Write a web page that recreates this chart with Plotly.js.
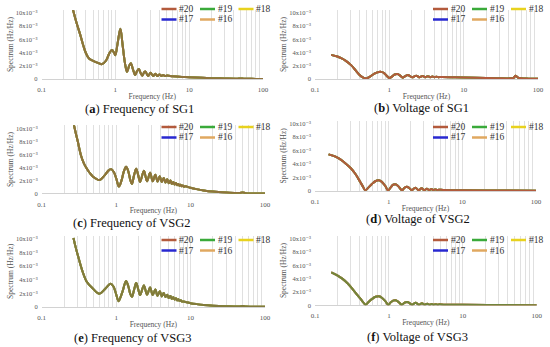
<!DOCTYPE html>
<html>
<head>
<meta charset="utf-8">
<script src="https://cdn.plot.ly/plotly-3.0.1.min.js"></script>
<style>html,body{margin:0;padding:0;background:#fff;}#chart{width:550px;height:347px;}</style>
</head>
<body>
<div id="chart"></div>
<script>
// ---- DATA (spectrum values in units of 10^-3 Hz/Hz) ----
const seriesNames = ['#20', '#19', '#18', '#17', '#16'];
const panelLetters = ['a', 'b', 'c', 'd', 'e', 'f'];
const panelTitles = ['Frequency of SG1', 'Voltage of SG1', 'Frequency of VSG2', 'Voltage of VSG2', 'Frequency of VSG3', 'Voltage of VSG3'];
const xTickVals = [0.1, 1, 10, 100];
const xTickText = ['0.1', '1', '10', '100'];
const xMinorVals = [0.2,0.3,0.4,0.5,0.6,0.7,0.8,0.9,2,3,4,5,6,7,8,9,20,30,40,50,60,70,80,90];
const yTickVals = [0, 2, 4, 6, 8, 10];
const yTickText = ['0', '2x10⁻³', '4x10⁻³', '6x10⁻³', '8x10⁻³', '10x10⁻³'];

const freqA = [0.25,0.268,0.3,0.337,0.37,0.4,0.44,0.5,0.58,0.66,0.75,0.83,0.9,0.96,1.0,1.07,1.17,1.25,1.35,1.44,1.53,1.62,1.74,1.86,1.97,2.08,2.2,2.32,2.45,2.55,2.78,3.0,3.25,3.48,3.72,3.96,4.2,4.45,4.7,5.0,6.0,8.0,10,15,20,30,45,50,55,70,100];
const specA = [11.8,10.4,8.4,6.6,5.0,3.9,3.1,2.75,2.45,2.25,2.8,3.9,4.4,4.0,3.6,5.3,7.6,5.3,2.4,1.1,1.9,2.4,1.4,0.6,1.2,1.5,0.9,0.5,1.0,1.15,0.45,0.95,0.45,0.8,0.45,0.7,0.45,0.6,0.45,0.52,0.42,0.32,0.26,0.18,0.13,0.08,0.05,0.09,0.04,0.02,0.01];

const freqB = [0.165,0.2,0.225,0.26,0.306,0.35,0.395,0.44,0.49,0.55,0.63,0.72,0.78,0.85,0.92,1.0,1.08,1.18,1.29,1.4,1.52,1.64,1.78,1.92,2.04,2.17,2.3,2.43,2.55,2.8,3.05,3.3,3.55,3.8,4.05,4.3,4.55,5,7,10,20,30,42,47,50,53,60,75,100];
const specB = [3.65,3.4,3.15,2.75,2.1,1.35,0.65,0.25,0.08,0.35,0.8,1.05,1.08,0.9,0.5,0.15,0.35,0.68,0.75,0.5,0.2,0.45,0.6,0.4,0.25,0.4,0.5,0.38,0.27,0.45,0.28,0.42,0.28,0.38,0.28,0.35,0.28,0.3,0.27,0.22,0.15,0.11,0.1,0.18,0.5,0.25,0.1,0.05,0.02];

const freqC = [0.267,0.285,0.305,0.338,0.37,0.395,0.44,0.49,0.6,0.7,0.8,0.86,0.93,1.0,1.09,1.18,1.27,1.36,1.45,1.55,1.63,1.74,1.86,1.98,2.1,2.36,2.6,2.86,3.1,3.36,3.6,3.86,4.1,4.36,4.6,4.86,5.1,5.36,5.6,5.86,6.1,6.36,6.6,6.86,7.1,7.36,7.6,7.86,8.1,8.5,10,12,15,20,30,45,50,55,70,100];
const specC = [10.8,9.4,8.0,5.8,4.6,4.0,3.2,2.6,2.1,2.8,3.6,3.75,3.3,2.4,1.1,2.0,3.4,4.1,3.5,2.1,1.5,2.8,3.8,2.8,1.8,3.5,1.9,3.2,1.9,2.9,1.85,2.65,1.8,2.4,1.7,2.2,1.6,2.0,1.5,1.8,1.4,1.65,1.3,1.5,1.22,1.38,1.15,1.25,1.08,1.12,0.9,0.7,0.5,0.32,0.18,0.1,0.18,0.08,0.04,0.02];

const freqD = [0.153,0.19,0.221,0.26,0.302,0.35,0.392,0.44,0.482,0.53,0.594,0.66,0.732,0.8,0.9,0.98,1.06,1.14,1.23,1.34,1.52,1.64,1.77,1.9,2.06,2.3,2.55,2.8,3.05,3.3,3.55,3.8,4.05,4.3,4.55,4.8,5.5,10,30,100];
const specD = [5.45,5.1,4.7,4.1,3.45,2.6,1.73,0.8,0.12,0.5,1.05,1.45,1.58,1.4,0.74,0.1,0.5,0.9,1.0,0.75,0.12,0.48,0.64,0.45,0.13,0.5,0.13,0.4,0.13,0.33,0.14,0.28,0.14,0.24,0.15,0.2,0.16,0.12,0.08,0.04];

const freqE = [0.267,0.285,0.305,0.349,0.403,0.486,0.597,0.72,0.84,0.92,0.98,1.08,1.16,1.23,1.36,1.46,1.54,1.63,1.75,1.86,1.98,2.1,2.36,2.6,2.86,3.1,3.36,3.6,3.86,4.1,4.36,4.6,4.86,5.1,5.36,5.6,5.86,6.1,6.36,6.6,6.86,7.1,7.36,7.6,8,10,12,15,20,30,45,50,55,70,100];
const specE = [10.1,8.8,7.6,5.4,3.7,2.7,1.95,2.7,3.4,3.0,2.2,0.85,1.6,2.4,3.8,3.0,2.0,1.5,2.6,3.5,2.6,1.75,3.15,1.8,2.85,1.75,2.55,1.65,2.3,1.55,2.05,1.45,1.8,1.32,1.6,1.2,1.42,1.08,1.27,0.98,1.13,0.9,1.0,0.82,0.8,0.55,0.42,0.3,0.2,0.12,0.08,0.16,0.06,0.04,0.02];

const freqF = [0.166,0.2,0.234,0.275,0.319,0.37,0.414,0.45,0.484,0.53,0.6,0.66,0.735,0.81,0.9,0.98,1.06,1.14,1.23,1.35,1.5,1.63,1.77,1.92,2.06,2.3,2.55,2.8,3.05,3.3,3.55,3.8,4.05,4.3,4.55,4.8,5.5,10,30,100];
const specF = [4.95,4.5,4.0,3.3,2.5,1.6,0.95,0.45,0.08,0.5,1.0,1.28,1.35,1.1,0.6,0.05,0.45,0.7,0.75,0.5,0.08,0.4,0.5,0.3,0.08,0.38,0.08,0.3,0.08,0.25,0.08,0.2,0.08,0.17,0.08,0.14,0.1,0.07,0.04,0.02];

const panelFreq = [freqA, freqB, freqC, freqD, freqE, freqF];
const panelSpec = [specA, specB, specC, specD, specE, specF];

// ---- STYLE / LAYOUT ----
const seriesColors = ['#b35a3c', '#3aaa3a', '#e8d21e', '#2828d0', '#e0a860'];
const W = 550, H = 347;
// px boxes: x of 0.1, x of 100, y of range top, y of zero
const boxes = [
  [41.5, 263, 10, 79],
  [315, 538, 10, 79],
  [41.7, 265, 125.3, 193.7],
  [315, 536, 120.7, 191],
  [41.7, 265, 235.6, 307],
  [315, 536.7, 235.7, 305.3]
];
const yTop = 10.45;
const captionPos = [[140, 109], [421.7, 108], [131, 222.7], [418, 219.3], [132, 338], [417, 337]];
const legendRows = [[9, 19.5], [9, 19.5], [127, 137.5], [127, 137.5], [240, 250.5], [240, 250.5]];
// draw order (indices into series) and opacity of the top trace per panel
const drawOrder = [[3,2,4,1,0],[3,2,4,1,0],[3,2,4,1,0],[3,2,4,1,0],[3,2,4,1,0],[3,2,4,0,1]];
const topOpacity = [0.7, 1, 0.7, 1, 0.6, 0.55];

const FONT = 'Liberation Serif, DejaVu Serif, serif';
const px = x => x / W, py = y => 1 - y / H;

const traces = [];
const layout = {
  width: W, height: H,
  margin: {l: 0, r: 0, t: 0, b: 0},
  paper_bgcolor: '#fff', plot_bgcolor: '#fff',
  showlegend: false,
  font: {family: FONT, color: '#444'},
  annotations: [], shapes: []
};

for (let p = 0; p < 6; p++) {
  const n = p + 1;
  const xa = 'x' + (n === 1 ? '' : n), ya = 'y' + (n === 1 ? '' : n);
  const b = boxes[p];
  const zeroPx = b[3], topPx = b[2];
  drawOrder[p].forEach((s, k) => {
    traces.push({
      type: 'scatter', mode: 'lines',
      x: panelFreq[p], y: panelSpec[p],
      name: seriesNames[s], xaxis: xa, yaxis: ya,
      line: {color: seriesColors[s], width: 2, shape: 'spline', smoothing: 1},
      opacity: k === 4 ? topOpacity[p] : 1,
      showlegend: false, hoverinfo: 'skip'
    });
  });
  layout['xaxis' + (n === 1 ? '' : n)] = {
    type: 'log', range: [-1, 2], domain: [px(b[0]), px(b[1])], anchor: ya,
    tickvals: xTickVals, ticktext: xTickText, ticks: '',
    showgrid: true, gridcolor: '#e0e0e0', gridwidth: 1,
    minor: {tickvals: xMinorVals, showgrid: true, gridcolor: '#e0e0e0', gridwidth: 1, ticks: ''},
    zeroline: false, showline: false,
    tickfont: {size: 7, color: '#555', family: FONT},
    ticklabelstandoff: 5,
    title: {text: 'Frequency (Hz)', font: {size: 7.5, color: '#555', family: FONT}, standoff: 0},
    automargin: false, fixedrange: true
  };
  layout['yaxis' + (n === 1 ? '' : n)] = {
    range: [0, yTop], domain: [py(zeroPx), py(topPx)], anchor: xa,
    tickvals: yTickVals, ticktext: yTickText, ticks: '',
    showgrid: false, zeroline: true, zerolinecolor: '#d2d2d2', zerolinewidth: 1,
    showline: false,
    tickfont: {size: 6.5, color: '#555', family: FONT},
    ticklabelstandoff: 3,
    title: {text: 'Spectrum (Hz/Hz)', font: {size: 7.5, color: '#555', family: FONT}, standoff: 1},
    automargin: false, fixedrange: true
  };
  // caption
  layout.annotations.push({
    xref: 'paper', yref: 'paper', x: px(captionPos[p][0]), y: py(captionPos[p][1]),
    xanchor: 'center', yanchor: 'middle', showarrow: false,
    text: '(<b>' + panelLetters[p] + '</b>) ' + panelTitles[p],
    font: {size: 12.5, color: '#111', family: FONT}
  });
  // manual legend (3 entries on first row, 2 on second)
  const lx = p % 2 === 0 ? [161.5, 200, 238.5] : [433, 472, 511];
  seriesNames.forEach((nm, s) => {
    const row = s < 3 ? 0 : 1;
    const col = s < 3 ? s : s - 3;
    const y = legendRows[p][row];
    const x0 = lx[col];
    layout.shapes.push({
      type: 'line', xref: 'paper', yref: 'paper',
      x0: px(x0), x1: px(x0 + 15), y0: py(y), y1: py(y),
      line: {color: seriesColors[s], width: 2.5}
    });
    layout.annotations.push({
      xref: 'paper', yref: 'paper', x: px(x0 + 16.5), y: py(y),
      xanchor: 'left', yanchor: 'middle', showarrow: false, borderpad: 0,
      text: nm, font: {size: 9.5, color: '#333', family: FONT}
    });
  });
}

Plotly.newPlot('chart', traces, layout, {displayModeBar: false, staticPlot: true});
</script>
</body>
</html>
